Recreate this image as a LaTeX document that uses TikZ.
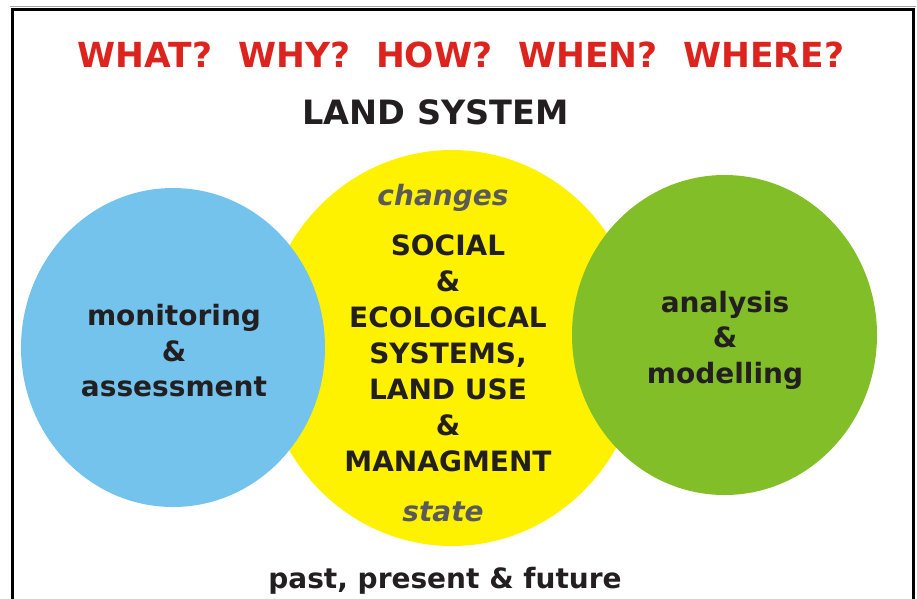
\documentclass[tikz,border=0pt]{standalone}
\usepackage{fontspec}
\setmainfont{DejaVu Sans}
\definecolor{askred}{HTML}{DC231E}
\definecolor{inkblack}{HTML}{231F20}
\definecolor{skyblue}{HTML}{73C3ED}
\definecolor{sunyellow}{HTML}{FFF200}
\definecolor{leafgreen}{HTML}{82BE28}
\definecolor{stategray}{HTML}{5A5A5A}

\tikzset{
  circtext/.style={font=\bfseries\fontsize{28}{35.5}\selectfont, text=inkblack, align=center, inner sep=0pt},
  italtext/.style={font=\bfseries\itshape\fontsize{28}{34}\selectfont, text=stategray, inner sep=0pt}
}

\begin{document}
\begin{tikzpicture}[x=1pt, y=-1pt]
		%%%%% FRAME %%%%%
		\useasboundingbox (0, 0) rectangle (917, 598);
		\clip (0, 0) rectangle (917, 598);
		\draw[black!35, line width=1.2] (10, 6.8) -- (916, 6.8);
		\draw[black, line width=3] (12, 9.5) rectangle (913.5, 640);
		
		%%%%% CIRCLES %%%%%
		\fill[sunyellow] (452, 348) ellipse (190 and 198);
		\fill[skyblue] (173, 347.5) ellipse (152 and 159.5);
		\fill[leafgreen] (724.5, 335) ellipse (152.5 and 160);
		
		%%%%% TEXT %%%%%
		\node[font=\bfseries\fontsize{34.5}{40}\selectfont, text=askred, inner sep=0pt] (questions) at (461, 55)
			{WHAT?\hspace{0.75em}WHY?\hspace{0.75em}HOW?\hspace{0.75em}WHEN?\hspace{0.75em}WHERE?};
		\node[font=\bfseries\fontsize{33.5}{38}\selectfont, text=inkblack, inner sep=0pt] (landsystem) at (435.5, 112) {LAND SYSTEM};
		
		\node[italtext] (changes) at (443, 198) {changes};
		\node[circtext, font=\bfseries\fontsize{28}{36}\selectfont] (core) at (448, 353)
			{SOCIAL\\\&\\ECOLOGICAL\\SYSTEMS,\\LAND USE\\\&\\MANAGMENT};
		\node[italtext] (state) at (443, 512) {state};
		
		\node[circtext] (monitoring) at (174, 351) {monitoring\\\&\\assessment};
		\node[circtext] (analysis) at (725, 340) {analysis\\\&\\modelling};
		
		\node[circtext, font=\bfseries\fontsize{28}{34}\selectfont] (timeline) at (445, 581) {past, present \& future};
	\end{tikzpicture}
\end{document}
